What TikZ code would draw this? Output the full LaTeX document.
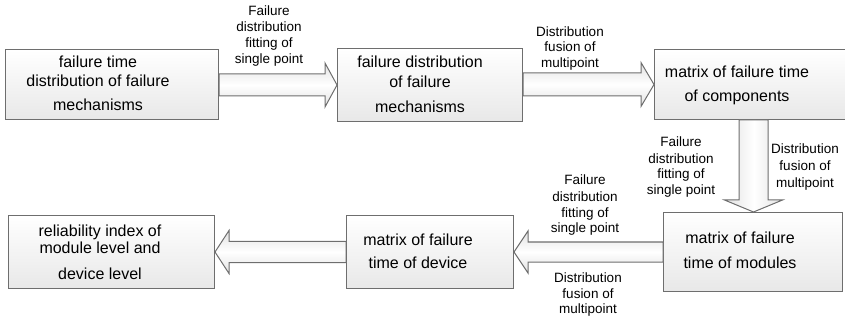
\documentclass[tikz,border=0pt]{standalone}
\usepackage{fontspec}
\setmainfont{Liberation Sans}
\usetikzlibrary{calc}

\definecolor{edgegray}{HTML}{6E6E6E}
\definecolor{boxlow}{HTML}{E8E8E8}
\definecolor{arrowrim}{HTML}{E2E2E2}

% Block arrow from #2 to the tip #3: body half-width #4, head half-width #5, head length #6
\newcommand\flowarrow[6][]{%
  \coordinate (flowbase) at ($(#3)!#6!(#2)$);
  \draw[#1] ($(#2)!#4!90:(#3)$) -- ($(flowbase)!#4!90:(#3)$) -- ($(flowbase)!#5!90:(#3)$)
    -- (#3) -- ($(flowbase)!#5!-90:(#3)$) -- ($(flowbase)!#4!-90:(#3)$)
    -- ($(#2)!#4!-90:(#3)$) -- cycle;
}

\begin{document}
\begin{tikzpicture}[x=1pt,y=-1pt,
  stage/.style={rectangle, draw=edgegray, line width=1pt, top color=white,
    bottom color=boxlow, anchor=north west, inner sep=0pt},
  % texts are placed by the baseline of their last line
  stagetext/.style={font=\fontsize{16}{19}\selectfont, align=center, anchor=base, inner sep=0pt},
  steplabel/.style={font=\fontsize{13.5}{16}\selectfont, align=center, anchor=base, inner sep=0pt},
  hflow/.style={draw=edgegray, line width=1pt, top color=arrowrim, bottom color=arrowrim,
    middle color=white},
  vflow/.style={draw=edgegray, line width=1pt, left color=arrowrim, right color=arrowrim,
    middle color=white},
]
\useasboundingbox (0,0) rectangle (845,320);
\clip (0,0) rectangle (845,320);

% stage boxes
\node[stage, minimum width=213pt, minimum height=70pt] (b1) at (5,49) {};
\node[stage, minimum width=185pt, minimum height=73pt] (b2) at (337,48) {};
\node[stage, minimum width=215pt, minimum height=70pt] (b3) at (654,49) {};
\node[stage, minimum width=179pt, minimum height=79pt] (b4) at (663,212) {};
\node[stage, minimum width=167pt, minimum height=73pt] (b5) at (346,215) {};
\node[stage, minimum width=206pt, minimum height=73pt] (b6) at (8,215) {};

% stage texts
\node[stagetext] (t1) at (98,111) {failure time\\distribution of failure\\[5pt]mechanisms};
\node[stagetext] (t2) at (420,113) {failure distribution\\[1pt]of failure\\[6pt]mechanisms};
\node[stagetext] (t3) at (737,102) {matrix of failure time\\[5pt]of components};
\node[stagetext] (t4) at (740,269) {matrix of failure\\[6pt]time of modules};
\node[stagetext] (t5) at (418,268) {matrix of failure\\[4pt]time of device};
\node[stagetext] (t6) at (100,279) {reliability index of\\[-1pt]module level and\\[6pt]device level};

% flow arrows
\coordinate (f1s) at (b1.east |- b2.west);
\flowarrow[hflow]{f1s}{b2.west}{11pt}{22pt}{12pt}
\coordinate (f2s) at (b2.east |- b3.west);
\flowarrow[hflow]{f2s}{b3.west}{11.5pt}{22pt}{13pt}
\coordinate (f3s) at (b3.south -| 753.5,0);
\coordinate (f3t) at (b4.north -| f3s);
\flowarrow[vflow]{f3s}{f3t}{14.5pt}{29pt}{12pt}
\flowarrow[hflow]{b4.west}{b5.east}{10pt}{21pt}{14pt}
\flowarrow[hflow]{b5.west}{b6.east}{10.5pt}{21.5pt}{14pt}

% arrow labels
\node[steplabel] (l1) at (269,64) {Failure\\distribution\\fitting of\\single point};
\node[steplabel] (l2) at (570,68) {Distribution\\[-1pt]fusion of\\multipoint};
\node[steplabel] (l3) at (681,195) {Failure\\[1pt]distribution\\[-1pt]fitting of\\single point};
\node[steplabel] (l4) at (805,188) {Distribution\\[1pt]fusion of\\[1pt]multipoint};
\node[steplabel] (l5) at (585,233) {Failure\\[1pt]distribution\\fitting of\\[-1pt]single point};
\node[steplabel] (l6) at (588,313) {Distribution\\fusion of\\[-1pt]multipoint};
\end{tikzpicture}
\end{document}
